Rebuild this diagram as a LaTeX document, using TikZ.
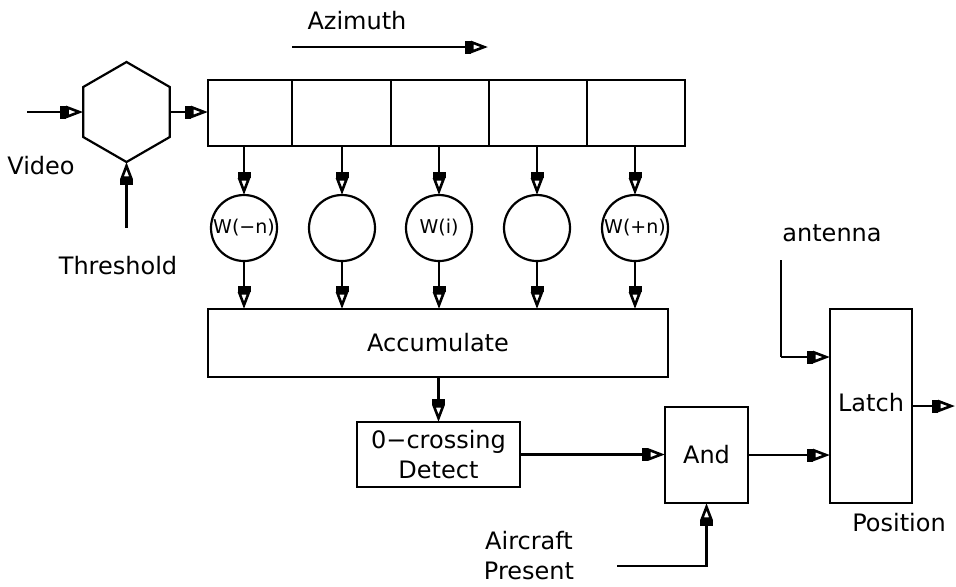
\documentclass[tikz,border=0pt]{standalone}
\usepackage{fontspec}
\setmainfont{DejaVu Sans}
\usetikzlibrary{arrows.meta,shapes.geometric}
\begin{document}
\begin{tikzpicture}[x=0.5pt,y=-0.5pt,
  every node/.style={font=\fontsize{12}{15}\selectfont, inner sep=0pt, outer sep=0pt},
  box/.style={draw, line width=1.1pt},
  cell/.style={box, minimum height=33pt},
  wt/.style={box, circle, minimum size=33pt, font=\fontsize{9.5}{11}\selectfont},
  conn/.style={line width=1.1pt, -{Rectangle[length=3pt,width=6.5pt] Triangle[open,length=8.5pt,width=6pt,line width=1.3pt]}},
  wire/.style={line width=1.1pt}
]
\useasboundingbox (0,0) rectangle (956,586);

% hexagon comparator
\node[box, regular polygon, regular polygon sides=6, shape border rotate=30, minimum size=50pt] (hex) at (126.5,112) {};

% shift register
\node[cell, minimum width=42pt]   (c1) at (250,113) {};
\node[cell, minimum width=49.5pt] (c2) at (341.5,113) {};
\node[cell, minimum width=49pt]   (c3) at (440,113) {};
\node[cell, minimum width=49pt]   (c4) at (538,113) {};
\node[cell, minimum width=49pt]   (c5) at (636,113) {};

% weights
\node[wt] (w1) at (244,228) {W(−n)};
\node[wt] (w2) at (342,228) {};
\node[wt] (w3) at (439,228) {W(i)};
\node[wt] (w4) at (537,228) {};
\node[wt] (w5) at (635,228) {W(+n)};

% blocks
\node[box, minimum width=230pt, minimum height=34pt] (acc) at (438,343) {Accumulate};
\node[box, minimum width=81.5pt, minimum height=32.5pt, align=center] (zc) at (438.5,454.5) {0−crossing\\Detect};
\node[box, minimum width=41.5pt, minimum height=48pt] (and) at (706.5,455) {And};
\node[box, minimum width=41pt, minimum height=97pt] (latch) at (871,406) {\raisebox{4pt}{Latch}};

% labels
\node (video) at (41,166) {Video};
\node (thresh) at (118,266) {Threshold};
\node (azim) at (357,21) {Azimuth};
\node (ant) at (832,233) {antenna};
\node (pos) at (899,523) {Position};
\node[align=center] (acft) at (529,556) {Aircraft\\Present};

% free ends
\coordinate (vidin) at (27,112);
\coordinate (thrin) at (126.5,228);
\coordinate (az1) at (292,47);
\coordinate (az2) at (488,47);
\coordinate (antin) at (781,260);
\coordinate (antbend) at (781,357);
\coordinate (acftin) at (617,566);
\coordinate (out) at (955,406);

% connectors
\draw[conn] (vidin) -- (hex.west);
\draw[conn] (thrin) -- (hex.south);
\draw[conn] (hex.east) -- (hex.east -| c1.west);
\draw[conn] (az1) -- (az2);

\foreach \w/\c in {w1/c1, w2/c2, w3/c3, w4/c4, w5/c5}{
  \draw[conn] (\w.north |- \c.south) -- (\w.north);
  \draw[conn] (\w.south) -- (\w.south |- acc.north);
}
\draw[conn] (zc.north |- acc.south) -- (zc.north);
\draw[conn] (zc.east) -- (zc.east -| and.west);
\draw[conn] (acftin) -| (and.south);
\draw[conn] (and.east) -- (and.east -| latch.west);
\draw[wire] (antin) -- (antbend);
\draw[conn] (antbend) -- (antbend -| latch.west);
\draw[conn] (latch.east) -- (out);
\end{tikzpicture}
\end{document}
